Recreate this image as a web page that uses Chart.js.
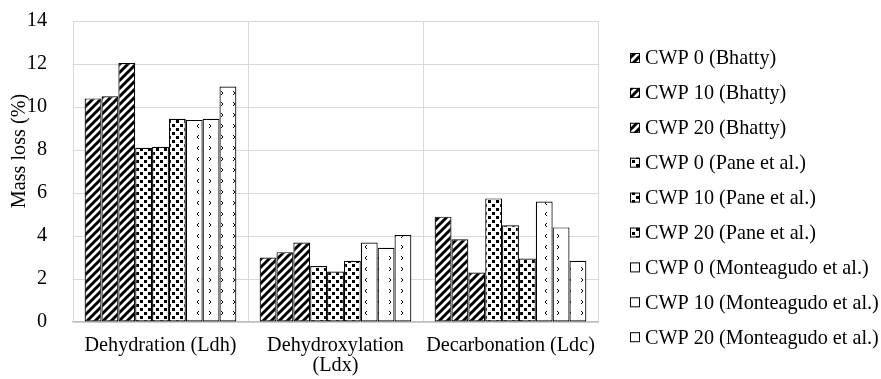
<!DOCTYPE html>
<html>
<head>
<meta charset="utf-8">
<script src="https://cdn.jsdelivr.net/npm/chart.js@4"></script>
<style>
  html, body { margin: 0; padding: 0; background: #fff; }
  #wrap { width: 881px; height: 379px; }
</style>
</head>
<body>
<div id="wrap"><canvas id="massChart" width="881" height="379"></canvas></div>
<script>
// data
const categories = ['Dehydration (Ldh)', ['Dehydroxylation', '(Ldx)'], 'Decarbonation (Ldc)'];
const seriesNames = [
  'CWP 0 (Bhatty)', 'CWP 10 (Bhatty)', 'CWP 20 (Bhatty)',
  'CWP 0 (Pane et al.)', 'CWP 10 (Pane et al.)', 'CWP 20 (Pane et al.)',
  'CWP 0 (Monteagudo et al.)', 'CWP 10 (Monteagudo et al.)', 'CWP 20 (Monteagudo et al.)'
];
const bhatty0 = [10.4, 3.0, 4.9];
const bhatty10 = [10.5, 3.25, 3.85];
const bhatty20 = [12.05, 3.7, 2.3];
const pane0 = [8.1, 2.6, 5.75];
const pane10 = [8.15, 2.35, 4.5];
const pane20 = [9.45, 2.85, 2.95];
const mont0 = [9.4, 3.7, 5.6];
const mont10 = [9.45, 3.45, 4.4];
const mont20 = [10.95, 4.05, 2.85];
const yTicks = [0, 2, 4, 6, 8, 10, 12, 14];
const yTitle = 'Mass loss (%)';

const FONT = "'Liberation Serif', 'Times New Roman', serif";
const FSIZE = 20.2;

function makeTile(w, h, draw) {
  const c = document.createElement('canvas');
  c.width = w; c.height = h;
  const g = c.getContext('2d');
  g.fillStyle = '#fff';
  g.fillRect(0, 0, w, h);
  g.fillStyle = '#000';
  g.strokeStyle = '#000';
  draw(g);
  return document.getElementById('massChart').getContext('2d').createPattern(c, 'repeat');
}

// wide upward diagonal stripes
function stripes() {
  return makeTile(8, 8, g => {
    g.lineWidth = 3;
    [[0, 8, 8, 0], [-4, 4, 4, -4], [4, 12, 12, 4]].forEach(l => {
      g.beginPath(); g.moveTo(l[0], l[1]); g.lineTo(l[2], l[3]); g.stroke();
    });
  });
}
// small black squares
function dots() {
  return makeTile(8, 8, g => {
    g.fillRect(0, 0, 3, 3);
    g.fillRect(4, 4, 3, 3);
  });
}
// sparse chevrons
function chevrons(flip) {
  return makeTile(12, 11, g => {
    g.lineWidth = 1;
    g.beginPath();
    if (flip) { g.moveTo(7, 3); g.lineTo(5, 5); g.lineTo(7, 7); }
    else { g.moveTo(5, 3); g.lineTo(7, 5); g.lineTo(5, 7); }
    g.stroke();
  });
}

const fills = [stripes(), stripes(), stripes(), dots(), dots(), dots(), chevrons(true), chevrons(false), chevrons(false)];
const values = [bhatty0, bhatty10, bhatty20, pane0, pane10, pane20, mont0, mont10, mont20];

const datasets = seriesNames.map((name, i) => ({
  label: name,
  data: values[i],
  backgroundColor: fills[i],
  borderColor: '#000',
  borderWidth: 1.2,
  borderSkipped: false
}));

// legend on the right and the y title, drawn like the Excel figure
const sideText = {
  id: 'sideText',
  afterDraw(chart) {
    const ctx = chart.ctx;
    const area = chart.chartArea;
    ctx.save();
    ctx.font = FSIZE + 'px ' + FONT;
    ctx.textBaseline = 'middle';
    const x0 = area.right + 32;
    chart.data.datasets.forEach((ds, i) => {
      const y = 58 + 34.9 * i;
      ctx.fillStyle = ds.backgroundColor;
      ctx.fillRect(x0, y - 5, 10, 10);
      ctx.strokeStyle = '#000';
      ctx.lineWidth = 1;
      ctx.strokeRect(x0 + 0.5, y - 4.5, 9, 9);
      ctx.fillStyle = '#000';
      ctx.textAlign = 'left';
      ctx.fillText(ds.label, x0 + 15, y + 1);
    });
    ctx.translate(20, 151);
    ctx.rotate(-Math.PI / 2);
    ctx.textAlign = 'center';
    ctx.fillText(yTitle, 0, 0);
    ctx.restore();
  }
};

new Chart(document.getElementById('massChart'), {
  type: 'bar',
  data: { labels: categories, datasets },
  plugins: [sideText],
  options: {
    responsive: false,
    animation: false,
    devicePixelRatio: 1,
    layout: { padding: { top: 21, bottom: 3, left: 0, right: 283 } },
    datasets: { bar: { categoryPercentage: 0.867, barPercentage: 1 } },
    plugins: {
      legend: { display: false },
      tooltip: { enabled: false }
    },
    scales: {
      x: {
        afterFit: s => { s.height = 54; },
        grid: { color: '#d9d9d9', drawTicks: false, offset: true },
        border: { color: '#bfbfbf', width: 1.5 },
        ticks: { color: '#000', font: { family: FONT, size: FSIZE, lineHeight: 1.0 }, padding: 13.7, maxRotation: 0 }
      },
      y: {
        min: 0,
        max: 14,
        afterBuildTicks: s => { s.ticks = yTicks.map(v => ({ value: v })); },
        afterFit: s => { s.width = 73; s.paddingTop = 0; s.paddingBottom = 0; },
        grid: { color: '#d9d9d9', drawTicks: false },
        border: { color: '#d9d9d9' },
        ticks: { color: '#000', font: { family: FONT, size: FSIZE }, padding: 26 }
      }
    }
  }
});
</script>
</body>
</html>
